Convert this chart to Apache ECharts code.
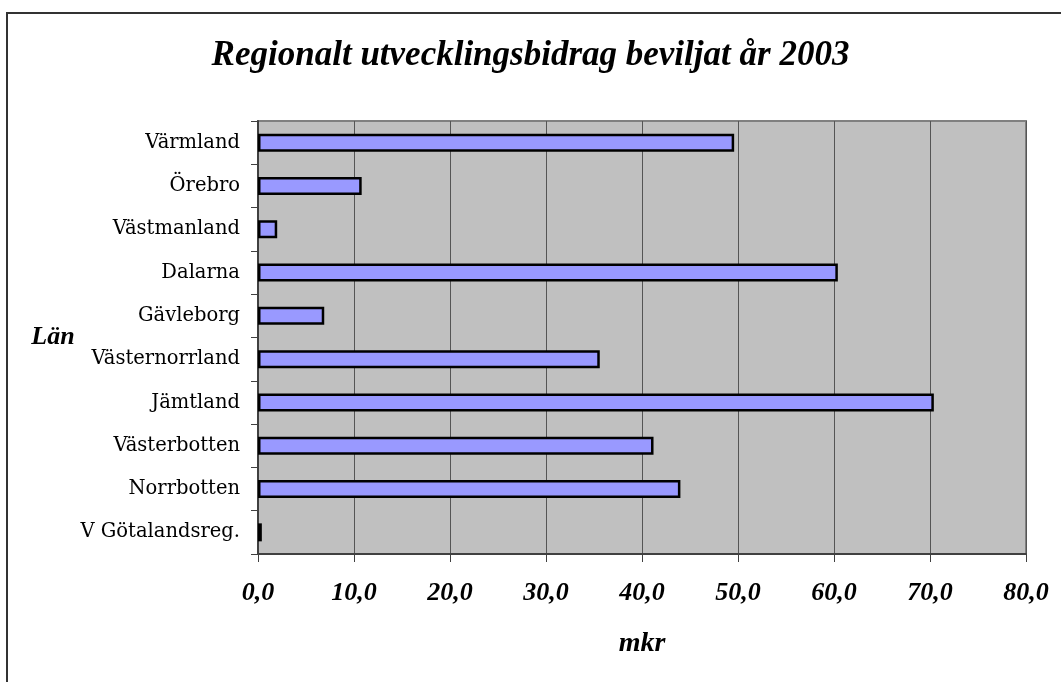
<!DOCTYPE html>
<html>
<head>
<meta charset="utf-8">
<script src="https://cdn.jsdelivr.net/npm/echarts@6/dist/echarts.min.js"></script>
<style>
  html, body { margin: 0; padding: 0; background: #fff; }
  #chart { width: 1061px; height: 682px; }
</style>
</head>
<body>
<div id="chart"></div>
<script>
// län (top to bottom) and beviljat bidrag i mkr
var lan = [
  "Värmland", "Örebro", "Västmanland", "Dalarna", "Gävleborg",
  "Västernorrland", "Jämtland", "Västerbotten", "Norrbotten", "V Götalandsreg."
];
var bidrag = [49.6, 10.8, 2.0, 60.4, 6.9, 35.6, 70.4, 41.2, 44.0, 0.4];
var xTicks = [0, 80, 10]; // min, max, interval

var chart = echarts.init(document.getElementById("chart"));

var boldItalic = {
  fontFamily: "Liberation Serif",
  fontStyle: "italic",
  fontWeight: "bold",
  color: "#000"
};

var option = {
  backgroundColor: "#fff",
  animation: false,
  title: {
    text: "Regionalt utvecklingsbidrag beviljat år 2003",
    left: "center",
    top: 33,
    textStyle: Object.assign({ fontSize: 35 }, boldItalic)
  },
  graphic: [
    {
      type: "polyline",
      shape: { points: [[7, 682], [7, 13], [1061, 13]] },
      style: { stroke: "#333", lineWidth: 2, fill: null }
    }
  ],
  grid: {
    left: 258,
    right: 35,
    top: 121,
    bottom: 128,
    show: true,
    backgroundColor: "#c0c0c0",
    borderColor: "#808080",
    borderWidth: 2
  },
  xAxis: {
    type: "value",
    min: xTicks[0],
    max: xTicks[1],
    interval: xTicks[2],
    name: "mkr",
    nameLocation: "middle",
    nameGap: 76,
    nameTextStyle: Object.assign({ fontSize: 28 }, boldItalic),
    axisLine: { show: true, lineStyle: { color: "#404040", width: 2 } },
    axisTick: { show: true, length: 8, lineStyle: { color: "#404040" } },
    axisLabel: Object.assign({
      margin: 26,
      fontSize: 26,
      formatter: function (v) { return v.toFixed(1).replace(".", ","); }
    }, boldItalic),
    splitLine: { show: true, lineStyle: { color: "#555", width: 1 } }
  },
  yAxis: {
    type: "category",
    data: lan,
    inverse: true,
    name: "Län",
    nameLocation: "middle",
    nameRotate: 0,
    nameGap: 177,
    nameTextStyle: Object.assign({ fontSize: 26, padding: [0, 0, 8, 0] }, boldItalic),
    axisLine: { show: true, lineStyle: { color: "#404040", width: 2 } },
    axisTick: { show: true, length: 7, lineStyle: { color: "#404040" } },
    axisLabel: {
      margin: 18,
      fontFamily: "DejaVu Serif",
      fontSize: 19.5,
      color: "#000"
    }
  },
  series: [
    {
      type: "bar",
      data: bidrag,
      barWidth: 18,
      itemStyle: {
        color: "#9999ff",
        borderColor: "#000",
        borderWidth: 2.5
      }
    }
  ]
};

chart.setOption(option);
</script>
</body>
</html>
